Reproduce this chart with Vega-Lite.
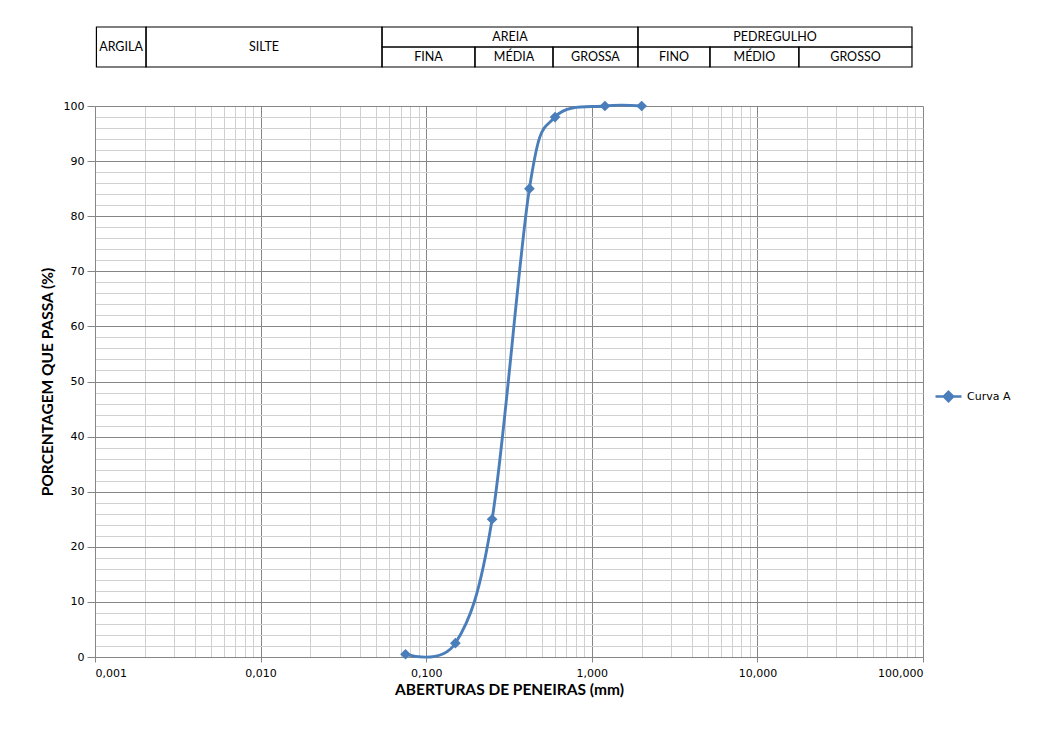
{
  "$schema": "https://vega.github.io/schema/vega-lite/v6.json",
  "background": "white",
  "padding": {"left": 40, "top": 26, "right": 0, "bottom": 0},
  "spacing": 31,
  "config": {"view": {"stroke": null}, "font": "Lato"},
  "datasets": {
    "curva": [
      {"abertura": 0.075, "passa": 0.5, "serie": "Curva A"},
      {"abertura": 0.15, "passa": 2.5, "serie": "Curva A"},
      {"abertura": 0.25, "passa": 25, "serie": "Curva A"},
      {"abertura": 0.42, "passa": 85, "serie": "Curva A"},
      {"abertura": 0.6, "passa": 98, "serie": "Curva A"},
      {"abertura": 1.2, "passa": 100, "serie": "Curva A"},
      {"abertura": 2.0, "passa": 100, "serie": "Curva A"}
    ],
    "tabela": [
      {"rotulo": "ARGILA", "x0": 0.00102, "x1": 0.002033, "xm": 0.001436, "y0": 0, "y1": 2, "ym": 1},
      {"rotulo": "SILTE", "x0": 0.002033, "x1": 0.0541, "xm": 0.01048, "y0": 0, "y1": 2, "ym": 1},
      {"rotulo": "AREIA", "x0": 0.0541, "x1": 1.90, "xm": 0.3206, "y0": 1, "y1": 2, "ym": 1.5},
      {"rotulo": "FINA", "x0": 0.0541, "x1": 0.197, "xm": 0.1033, "y0": 0, "y1": 1, "ym": 0.5},
      {"rotulo": "MÉDIA", "x0": 0.197, "x1": 0.583, "xm": 0.339, "y0": 0, "y1": 1, "ym": 0.5},
      {"rotulo": "GROSSA", "x0": 0.583, "x1": 1.90, "xm": 1.052, "y0": 0, "y1": 1, "ym": 0.5},
      {"rotulo": "PEDREGULHO", "x0": 1.90, "x1": 85.8, "xm": 12.77, "y0": 1, "y1": 2, "ym": 1.5},
      {"rotulo": "FINO", "x0": 1.90, "x1": 5.17, "xm": 3.135, "y0": 0, "y1": 1, "ym": 0.5},
      {"rotulo": "MÉDIO", "x0": 5.17, "x1": 17.8, "xm": 9.60, "y0": 0, "y1": 1, "ym": 0.5},
      {"rotulo": "GROSSO", "x0": 17.8, "x1": 85.8, "xm": 39.1, "y0": 0, "y1": 1, "ym": 0.5}
    ]
  },
  "vconcat": [
    {
      "width": 828,
      "height": 40,
      "data": {"name": "tabela"},
      "layer": [
        {
          "mark": {"type": "rect", "fill": "transparent", "stroke": "black", "strokeWidth": 1.2},
          "encoding": {
            "x": {"field": "x0", "type": "quantitative", "scale": {"type": "log", "domain": [0.001, 100]}, "axis": null},
            "x2": {"field": "x1"},
            "y": {"field": "y0", "type": "quantitative", "scale": {"domain": [0, 2]}, "axis": null},
            "y2": {"field": "y1"}
          }
        },
        {
          "mark": {"type": "text", "font": "Lato", "fontSize": 12.5, "fontWeight": "normal", "color": "black", "baseline": "middle", "align": "center"},
          "encoding": {
            "x": {"field": "xm", "type": "quantitative", "scale": {"type": "log", "domain": [0.001, 100]}, "axis": null},
            "y": {"field": "ym", "type": "quantitative", "scale": {"domain": [0, 2]}, "axis": null},
            "text": {"field": "rotulo"}
          }
        }
      ]
    },
    {
      "width": 828,
      "height": 551,
      "data": {"name": "curva"},
      "encoding": {
        "x": {
          "field": "abertura", "type": "quantitative",
          "scale": {"type": "log", "domain": [0.001, 100]},
          "title": "ABERTURAS DE PENEIRAS (mm)",
          "axis": {
            "values": [0.001,0.002,0.003,0.004,0.005,0.006,0.007,0.008,0.009,0.01,0.02,0.03,0.04,0.05,0.06,0.07,0.08,0.09,0.1,0.2,0.3,0.4,0.5,0.6,0.7,0.8,0.9,1,2,3,4,5,6,7,8,9,10,20,30,40,50,60,70,80,90,100],
            "labelExpr": "abs(log(datum.value)/LN10 - round(log(datum.value)/LN10)) < 0.001 ? replace(format(datum.value, '.3f'), '.', ',') : ''",
            "labelOverlap": false,
            "labelFont": "DejaVu Sans", "labelFontSize": 11, "labelColor": "black",
            "labelPadding": 5,
            "tickSize": 5,
            "tickColor": {"condition": {"test": "abs(log(datum.value)/LN10 - round(log(datum.value)/LN10)) < 0.001", "value": "#868686"}, "value": "transparent"},
            "grid": true,
            "gridColor": {"condition": {"test": "abs(log(datum.value)/LN10 - round(log(datum.value)/LN10)) < 0.001", "value": "#868686"}, "value": "#d0d0d0"},
            "domainColor": "#868686",
            "titleFont": "Lato", "titleFontWeight": "bold", "titleFontSize": 15.5, "titleColor": "black",
            "titlePadding": 4
          }
        },
        "y": {
          "field": "passa", "type": "quantitative",
          "scale": {"domain": [0, 100], "nice": false},
          "title": "PORCENTAGEM QUE PASSA (%)",
          "axis": {
            "values": [0,2,4,6,8,10,12,14,16,18,20,22,24,26,28,30,32,34,36,38,40,42,44,46,48,50,52,54,56,58,60,62,64,66,68,70,72,74,76,78,80,82,84,86,88,90,92,94,96,98,100],
            "labelExpr": "datum.value % 10 === 0 ? datum.label : ''",
            "labelOverlap": false,
            "labelFont": "DejaVu Sans", "labelFontSize": 11, "labelColor": "black",
            "labelPadding": 3,
            "tickSize": 8,
            "tickColor": {"condition": {"test": "datum.value % 10 === 0", "value": "#868686"}, "value": "transparent"},
            "grid": true,
            "gridColor": {"condition": {"test": "datum.value % 10 === 0", "value": "#868686"}, "value": "#d0d0d0"},
            "domainColor": "#868686",
            "titleFont": "Lato", "titleFontWeight": "bold", "titleFontSize": 15.5, "titleColor": "black",
            "titlePadding": 8
          }
        }
      },
      "layer": [
        {
          "mark": {"type": "line", "interpolate": "cardinal", "strokeWidth": 2.9},
          "encoding": {
            "color": {
              "field": "serie", "type": "nominal", "scale": {"range": ["#4a7ebb"]},
              "legend": {
                "title": null,
                "orient": "none",
                "legendX": 839,
                "legendY": 355,
                "symbolType": "M-1,0L1,0M0,-0.36L0.36,0L0,0.36L-0.36,0Z",
                "symbolSize": 676,
                "symbolStrokeWidth": 2.5,
                "symbolStrokeColor": "#4a7ebb",
                "symbolFillColor": "#4a7ebb",
                "symbolOpacity": 1,
                "labelFont": "DejaVu Sans",
                "labelFontSize": 11,
                "labelColor": "black",
                "labelOffset": 4
              }
            }
          }
        },
        {
          "mark": {"type": "point", "shape": "diamond", "filled": true, "size": 115, "opacity": 1},
          "encoding": {
            "color": {
              "field": "serie", "type": "nominal", "scale": {"range": ["#4a7ebb"]},
              "legend": {
                "title": null,
                "orient": "none",
                "legendX": 839,
                "legendY": 355,
                "symbolType": "M-1,0L1,0M0,-0.36L0.36,0L0,0.36L-0.36,0Z",
                "symbolSize": 676,
                "symbolStrokeWidth": 2.5,
                "symbolStrokeColor": "#4a7ebb",
                "symbolFillColor": "#4a7ebb",
                "symbolOpacity": 1,
                "labelFont": "DejaVu Sans",
                "labelFontSize": 11,
                "labelColor": "black",
                "labelOffset": 4
              }
            }
          }
        }
      ]
    }
  ]
}
